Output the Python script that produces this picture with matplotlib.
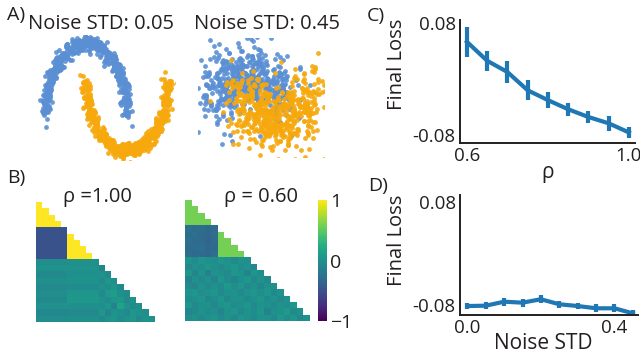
import numpy as np
import matplotlib
matplotlib.use("Agg")
import matplotlib.pyplot as plt

plt.rcParams['font.family'] = ['Open Sans', 'DejaVu Sans']
TXT = '#231f20'

# ---------------- data ----------------
n_per_moon = 500
noise_left = 0.06
noise_right = 0.45

rho_vals = [0.60, 0.65, 0.70, 0.75, 0.80, 0.85, 0.90, 0.95, 1.00]
rho_loss = [0.053, 0.026, 0.010, -0.016, -0.030, -0.043, -0.054, -0.063, -0.076]
rho_err = [0.021, 0.014, 0.015, 0.014, 0.011, 0.009, 0.008, 0.011, 0.008]

noise_vals = [0.00, 0.05, 0.10, 0.15, 0.20, 0.25, 0.30, 0.35, 0.40, 0.45]
noise_loss = [-0.0815, -0.081, -0.0748, -0.0763, -0.071, -0.0788, -0.0815, -0.085, -0.085, -0.0928]
noise_err = [0.005, 0.005, 0.006, 0.006, 0.006, 0.005, 0.005, 0.006, 0.006, 0.005]

# correlation matrix, rho = 1.00 (strict lower triangle)
r1_within = 1.0
r1_cross = -0.5
r1_noise_a = [-0.02, 0.02, -0.05, 0.00, -0.06, -0.01, -0.04, 0.01, -0.07, -0.02]   # cols 0-4
r1_noise_b = [0.00, 0.03, 0.00, 0.02, -0.03, 0.04, 0.07, 0.00, -0.04, 0.00]        # cols 5-9
r1_noise_c = [
    [],
    [-0.08],
    [0.02, -0.06],
    [-0.04, 0.06, 0.00],
    [0.03, -0.02, 0.05, -0.07],
    [-0.05, 0.08, 0.12, 0.00, -0.03],
    [0.02, -0.03, 0.04, 0.07, -0.06, 0.02],
    [-0.02, 0.05, -0.10, 0.15, 0.02, -0.05, 0.00],
    [0.04, -0.09, 0.03, 0.00, -0.04, 0.06, 0.02, -0.02],
    [-0.06, 0.02, 0.05, -0.03, 0.01, 0.04, -0.05, 0.03, 0.00],
]

# correlation matrix, rho = 0.60
r2_within = 0.58
r2_cross = [
    [-0.27, -0.30, -0.28, -0.33, -0.29],
    [-0.29, -0.27, -0.31, -0.34, -0.28],
    [-0.26, -0.30, -0.29, -0.35, -0.30],
    [-0.30, -0.28, -0.27, -0.33, -0.31],
    [-0.28, -0.31, -0.30, -0.34, -0.27],
]
r2_noise = [
    [0.02, -0.03, 0.04, 0.00, -0.02, 0.05, 0.01, -0.04, 0.03, 0.00],
    [-0.06, 0.03, -0.02, 0.05, 0.00, -0.05, 0.02, 0.06, -0.03, 0.01, -0.07],
    [0.04, -0.08, 0.01, -0.12, 0.03, 0.00, -0.06, 0.04, 0.02, -0.10, 0.05, -0.02],
    [-0.10, 0.00, -0.05, 0.02, -0.09, 0.04, -0.03, -0.08, 0.00, 0.05, -0.04, 0.02, -0.06],
    [-0.04, -0.09, 0.03, -0.06, 0.00, -0.03, 0.07, -0.02, 0.04, -0.05, 0.01, -0.08, 0.03, 0.00],
    [0.03, 0.05, -0.02, 0.01, 0.06, -0.04, 0.00, 0.03, -0.06, 0.02, 0.05, -0.01, 0.04, -0.05, 0.02],
    [-0.03, 0.00, 0.04, -0.07, -0.02, 0.05, -0.05, 0.01, 0.03, -0.04, 0.00, 0.06, -0.03, 0.02, -0.06, 0.01],
    [0.05, -0.04, 0.00, 0.03, -0.06, 0.02, 0.04, -0.03, 0.00, 0.06, -0.05, 0.02, 0.00, -0.04, 0.03, -0.02, 0.05],
    [-0.08, -0.05, 0.02, -0.03, 0.00, -0.09, 0.01, 0.04, -0.06, 0.02, -0.03, 0.05, -0.10, 0.00, 0.03, 0.08, -0.04, 0.02],
    [-0.02, 0.03, -0.05, 0.00, 0.04, -0.03, 0.02, -0.06, 0.05, 0.00, -0.04, 0.03, 0.01, -0.05, 0.07, -0.02, 0.04, -0.07, 0.00],
]

blue = '#5a8fd4'
orange = '#f6a80c'
line_col = '#1f77b4'


def moons(n, noise, rng):
    t = np.linspace(0, np.pi, n)
    outer = np.c_[np.cos(t), np.sin(t)] + rng.normal(0, noise, (n, 2))
    inner = np.c_[1 - np.cos(t), 1 - np.sin(t) - 0.5] + rng.normal(0, noise, (n, 2))
    return outer, inner


def build_r1():
    M = np.full((20, 20), np.nan)
    for i in range(20):
        for j in range(i):
            if i < 5:
                M[i, j] = r1_within
            elif i < 10:
                M[i, j] = r1_cross if j < 5 else r1_within
            else:
                r = i - 10
                if j < 5:
                    M[i, j] = r1_noise_a[r]
                elif j < 10:
                    M[i, j] = r1_noise_b[r]
                else:
                    M[i, j] = r1_noise_c[r][j - 10]
    return M


def build_r2():
    M = np.full((20, 20), np.nan)
    for i in range(20):
        for j in range(i):
            if i < 5:
                M[i, j] = r2_within
            elif i < 10:
                M[i, j] = r2_cross[i - 5][j] if j < 5 else r2_within
            else:
                M[i, j] = r2_noise[i - 10][j]
    return M


W, H = 640, 360
fig = plt.figure(figsize=(6.4, 3.6), dpi=100)


def box(x0, y0, x1, y1):
    return [x0 / W, 1 - y1 / H, (x1 - x0) / W, (y1 - y0) / H]


def ftext(x, y, s, **kw):
    kw.setdefault('ha', 'center')
    kw.setdefault('va', 'center')
    kw.setdefault('fontsize', 14.5)
    kw.setdefault('color', TXT)
    fig.text(x / W, 1 - y / H, s, **kw)


rng = np.random.default_rng(3)

# ---- Panel A ----
axA1 = fig.add_axes(box(35, 35, 175, 160))
o, i_ = moons(n_per_moon, noise_left, rng)
axA1.scatter(o[:, 0], o[:, 1], s=12, color=blue, alpha=0.9, linewidths=0)
axA1.scatter(i_[:, 0], i_[:, 1], s=12, color=orange, alpha=0.9, linewidths=0)
axA1.set_xlim(-1.24, 2.17)
axA1.set_ylim(-0.63, 1.13)
axA1.axis('off')

axA2 = fig.add_axes(box(198, 38, 324, 157))
o2, i2 = moons(n_per_moon, noise_right, rng)
axA2.scatter(o2[:, 0], o2[:, 1], s=12, color=blue, alpha=0.9, linewidths=0)
axA2.scatter(i2[:, 0], i2[:, 1], s=12, color=orange, alpha=0.9, linewidths=0)
allx = np.r_[o2[:, 0], i2[:, 0]]
ally = np.r_[o2[:, 1], i2[:, 1]]
axA2.set_xlim(np.quantile(allx, 0.004), np.quantile(allx, 0.996))
axA2.set_ylim(np.quantile(ally, 0.004), np.quantile(ally, 0.996))
axA2.axis('off')

ftext(16, 15, 'A)', fontsize=14)
ftext(101, 24, 'Noise STD: 0.05')
ftext(267, 24, 'Noise STD: 0.45')

# ---- Panel B ----
M1 = build_r1()[1:, :19]
M2 = build_r2()[1:, :19]
axB1 = fig.add_axes(box(36, 202, 155, 322))
im = axB1.imshow(np.ma.masked_invalid(M1), cmap='viridis', vmin=-1, vmax=1,
                 aspect='auto', interpolation='nearest')
axB1.axis('off')
axB2 = fig.add_axes(box(185, 200, 310, 321))
axB2.imshow(np.ma.masked_invalid(M2), cmap='viridis', vmin=-1, vmax=1,
            aspect='auto', interpolation='nearest')
axB2.axis('off')

cax = fig.add_axes(box(318, 200, 327, 321))
cb = fig.colorbar(im, cax=cax, ticks=[-1, 0, 1])
cb.outline.set_visible(False)
cb.ax.tick_params(length=0, labelsize=14, labelcolor=TXT, pad=2)
cb.ax.set_yticklabels(['\u22121', '0', '1'])

ftext(16, 178, 'B)', fontsize=14)
ftext(97, 197, '\u03c1 =1.00')
ftext(261, 197, '\u03c1 = 0.60')


def style_line_ax(ax):
    for s in ['top', 'right']:
        ax.spines[s].set_visible(False)
    for s in ['left', 'bottom']:
        ax.spines[s].set_linewidth(1.4)
        ax.spines[s].set_color(TXT)
    ax.tick_params(length=0, labelsize=13.5, labelcolor=TXT, pad=3)


# ---- Panel C ----
axC = fig.add_axes(box(460, 20, 635, 143))
axC.errorbar(rho_vals, rho_loss, yerr=rho_err, color=line_col, lw=3,
             elinewidth=3, capsize=0)
axC.set_xlim(0.583, 1.015)
axC.set_ylim(-0.091, 0.084)
axC.set_xticks([0.6, 1.0])
axC.set_xticklabels(['0.6', '1.0'])
axC.set_yticks([-0.08, 0.08])
axC.set_yticklabels(['-0.08', '0.08'])
style_line_ax(axC)
axC.set_xlabel('\u03c1', fontsize=15, color=TXT, labelpad=-2)
axC.set_ylabel('Final Loss', fontsize=14.5, color=TXT)
axC.yaxis.set_label_coords(-0.30, 0.64)
ftext(376, 16, 'C)', fontsize=14)

# ---- Panel D ----
axD = fig.add_axes(box(460, 195, 638, 315))
axD.errorbar(noise_vals, noise_loss, yerr=noise_err, color=line_col, lw=3,
             elinewidth=3, capsize=0)
axD.set_xlim(-0.02, 0.464)
axD.set_ylim(-0.0954, 0.0904)
axD.set_xticks([0.0, 0.4])
axD.set_xticklabels(['0.0', '0.4'])
axD.set_yticks([-0.08, 0.08])
axD.set_yticklabels(['-0.08', '0.08'])
style_line_ax(axD)
axD.set_xlabel('Noise STD', fontsize=15, color=TXT)
axD.xaxis.set_label_coords(0.469, -0.15)
axD.set_ylabel('Final Loss', fontsize=14.5, color=TXT)
axD.yaxis.set_label_coords(-0.295, 0.62)
ftext(378, 186, 'D)', fontsize=14)

fig.savefig('out.png', dpi=100)
